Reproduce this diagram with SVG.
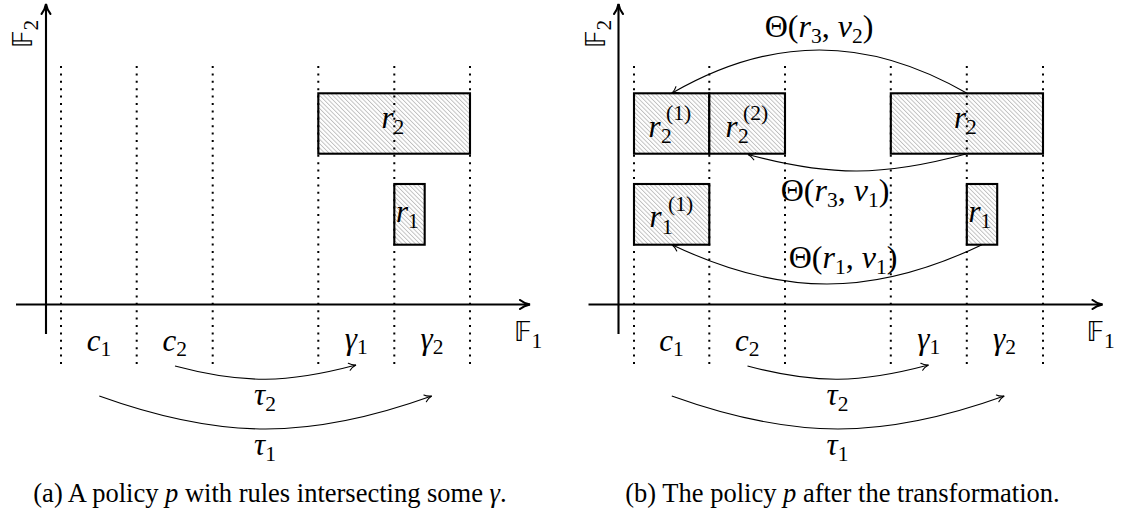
<svg xmlns="http://www.w3.org/2000/svg" width="1133" height="516" viewBox="0 0 1133 516">
<style>
  .bg { fill: #ffffff; }
  .axis { stroke: #000; stroke-width: 2.1; fill: none; }
  .dot { stroke: #000; stroke-width: 2; stroke-dasharray: 2 5.4; fill: none; }
  .rule { fill: url(#hatch); stroke: #000; stroke-width: 2.1; }
  .arc { stroke: #000; stroke-width: 1.1; fill: none; marker-end: url(#ah); }
  .m { font-family: "Liberation Serif", "DejaVu Serif", serif; font-size: 31px; fill: #000; }
  .t { font-size: 32px; }
  .i { font-style: italic; }
  .s { font-size: 21.5px; font-style: normal; }
  .bb { font-family: "DejaVu Sans", "Noto Sans", sans-serif; font-size: 26px; fill: #000; }
  .cap { font-family: "Liberation Serif", "Times New Roman", serif; font-size: 26.5px; fill: #000; }
</style>
<defs>
  <pattern id="hatch" patternUnits="userSpaceOnUse" width="3.1" height="3.1" patternTransform="rotate(-45)">
    <rect width="3.1" height="3.1" fill="#ffffff"/>
    <line x1="0.5" y1="0" x2="0.5" y2="3.1" stroke="#a8a8a8" stroke-width="0.7"/>
  </pattern>
  <marker id="ah" viewBox="-9 -5 11 10" refX="0" refY="0" markerWidth="11" markerHeight="10" orient="auto" markerUnits="userSpaceOnUse">
    <path d="M-7,-3.6 C-5,-1.6 -2.2,-0.5 0,0 C-2.2,0.5 -5,1.6 -7,3.6" fill="none" stroke="#000" stroke-width="1.1" stroke-linecap="round"/>
  </marker>
  <marker id="axh" viewBox="-12 -6 14 12" refX="0" refY="0" markerWidth="14" markerHeight="12" orient="auto" markerUnits="userSpaceOnUse">
    <path d="M-10,-4.5 C-7,-2 -3,-0.6 0,0 C-3,0.6 -7,2 -10,4.5" fill="none" stroke="#000" stroke-width="2" stroke-linecap="round"/>
  </marker>
</defs>
<rect class="bg" x="0" y="0" width="1133" height="516"/>

<!-- ============ Panel (a) ============ -->
<g id="panel-a">
  <g id="a-axes">
    <line class="axis" x1="46" y1="334" x2="46" y2="4" marker-end="url(#axh)"/>
    <line class="axis" x1="16" y1="304.5" x2="530" y2="304.5" marker-end="url(#axh)"/>
    <text class="bb" transform="translate(32,48) rotate(-90)">𝔽<tspan class="m s" dy="6">2</tspan></text>
    <text class="bb" x="514" y="341">𝔽<tspan class="m s" dy="7">1</tspan></text>
  </g>
  <g id="a-r2"><rect class="rule" x="318.3" y="93.3" width="151.7" height="60.4"/>
    <text class="m" x="381.5" y="127.5"><tspan class="i">r</tspan><tspan class="s" dy="6">2</tspan></text></g>
  <g id="a-r1"><rect class="rule" x="394.3" y="184" width="30.4" height="60.7"/>
    <text class="m" x="396" y="221.5"><tspan class="i">r</tspan><tspan class="s" dy="6">1</tspan></text></g>
  <g id="a-grid">
    <line class="dot" x1="61" y1="66" x2="61" y2="366"/>
    <line class="dot" x1="136.7" y1="66" x2="136.7" y2="366"/>
    <line class="dot" x1="212.7" y1="66" x2="212.7" y2="366"/>
    <line class="dot" x1="318.3" y1="66" x2="318.3" y2="366"/>
    <line class="dot" x1="394.3" y1="66" x2="394.3" y2="366"/>
    <line class="dot" x1="470" y1="66" x2="470" y2="366"/>
  </g>
  <g id="a-c1"><text class="m" x="98.9" y="350.5" text-anchor="middle"><tspan class="i">c</tspan><tspan class="s" dy="5">1</tspan></text></g>
  <g id="a-c2"><text class="m" x="174.7" y="350.5" text-anchor="middle"><tspan class="i">c</tspan><tspan class="s" dy="5">2</tspan></text></g>
  <g id="a-g1"><text class="m" x="356.3" y="349" text-anchor="middle"><tspan class="i">γ</tspan><tspan class="s" dy="5">1</tspan></text></g>
  <g id="a-g2"><text class="m" x="432" y="349" text-anchor="middle"><tspan class="i">γ</tspan><tspan class="s" dy="5">2</tspan></text></g>
  <g id="a-connectors">
    <path class="arc" d="M175,366 C243.5,384.3 287.5,383.3 356,365"/>
    <path class="arc" d="M99.3,396 C221.6,440 309.4,440 431.7,396"/>
    <text class="m" x="265" y="405" text-anchor="middle"><tspan class="i">τ</tspan><tspan class="s" dy="6">2</tspan></text>
    <text class="m" x="265" y="455" text-anchor="middle"><tspan class="i">τ</tspan><tspan class="s" dy="6">1</tspan></text>
  </g>
  <text class="cap" x="270" y="501.5" text-anchor="middle">(a) A policy <tspan class="i">p</tspan> with rules intersecting some <tspan class="i">γ</tspan>.</text>
</g>

<!-- ============ Panel (b) ============ -->
<g id="panel-b">
  <g id="b-axes">
    <line class="axis" x1="618.5" y1="334" x2="618.5" y2="4" marker-end="url(#axh)"/>
    <line class="axis" x1="588.5" y1="304.5" x2="1102.5" y2="304.5" marker-end="url(#axh)"/>
    <text class="bb" transform="translate(604.5,48) rotate(-90)">𝔽<tspan class="m s" dy="6">2</tspan></text>
    <text class="bb" x="1086.5" y="341">𝔽<tspan class="m s" dy="7">1</tspan></text>
  </g>
  <g id="b-r2-1"><rect class="rule" x="634" y="93.3" width="75.3" height="60.4"/>
    <text class="m"><tspan class="i" x="648.5" y="136.5">r</tspan><tspan class="s" x="661" y="143">2</tspan><tspan class="s" x="666" y="120">(1)</tspan></text></g>
  <g id="b-r2-2"><rect class="rule" x="709.3" y="93.3" width="75.7" height="60.4"/>
    <text class="m"><tspan class="i" x="725.5" y="136.5">r</tspan><tspan class="s" x="738" y="143">2</tspan><tspan class="s" x="743" y="120">(2)</tspan></text></g>
  <g id="b-r2"><rect class="rule" x="890.8" y="93.3" width="152.2" height="60.4"/>
    <text class="m" x="954" y="127.5"><tspan class="i">r</tspan><tspan class="s" dy="6">2</tspan></text></g>
  <g id="b-r1-1"><rect class="rule" x="634" y="184" width="75.3" height="60.7"/>
    <text class="m"><tspan class="i" x="649.5" y="227.3">r</tspan><tspan class="s" x="662" y="234">1</tspan><tspan class="s" x="668" y="211">(1)</tspan></text></g>
  <g id="b-r1"><rect class="rule" x="966.8" y="184" width="30.4" height="60.7"/>
    <text class="m" x="968.5" y="221.5"><tspan class="i">r</tspan><tspan class="s" dy="6">1</tspan></text></g>
  <g id="b-grid">
    <line class="dot" x1="634" y1="66" x2="634" y2="366"/>
    <line class="dot" x1="709.3" y1="66" x2="709.3" y2="366"/>
    <line class="dot" x1="785" y1="66" x2="785" y2="366"/>
    <line class="dot" x1="890.8" y1="66" x2="890.8" y2="366"/>
    <line class="dot" x1="966.8" y1="66" x2="966.8" y2="366"/>
    <line class="dot" x1="1043" y1="66" x2="1043" y2="366"/>
  </g>
  <g id="b-c1"><text class="m" x="671.4" y="350.5" text-anchor="middle"><tspan class="i">c</tspan><tspan class="s" dy="5">1</tspan></text></g>
  <g id="b-c2"><text class="m" x="747.2" y="350.5" text-anchor="middle"><tspan class="i">c</tspan><tspan class="s" dy="5">2</tspan></text></g>
  <g id="b-g1"><text class="m" x="928.8" y="349" text-anchor="middle"><tspan class="i">γ</tspan><tspan class="s" dy="5">1</tspan></text></g>
  <g id="b-g2"><text class="m" x="1004.5" y="349" text-anchor="middle"><tspan class="i">γ</tspan><tspan class="s" dy="5">2</tspan></text></g>
  <g id="b-connectors">
    <path class="arc" d="M967,93.3 C866.9,35.5 771.8,35.5 671.7,93.3"/>
    <path class="arc" d="M966,154 C883.7,176.3 830.3,176.8 748,154.5"/>
    <path class="arc" d="M982,244.7 C872.5,297.1 781.5,297.1 672,244.7"/>
    <path class="arc" d="M747.5,366 C816,384.3 860,383.3 928.5,365"/>
    <path class="arc" d="M671.8,396 C794.1,440 881.9,440 1004.2,396"/>
    <text class="m t" x="819" y="37" text-anchor="middle">Θ(<tspan class="i">r</tspan><tspan class="s" dy="6">3</tspan><tspan dy="-6">, </tspan><tspan class="i">ν</tspan><tspan class="s" dy="6">2</tspan><tspan dy="-6">)</tspan></text>
    <text class="m t" x="835" y="200.5" text-anchor="middle">Θ(<tspan class="i">r</tspan><tspan class="s" dy="6">3</tspan><tspan dy="-6">, </tspan><tspan class="i">ν</tspan><tspan class="s" dy="6">1</tspan><tspan dy="-6">)</tspan></text>
    <text class="m t" x="843" y="268.3" text-anchor="middle">Θ(<tspan class="i">r</tspan><tspan class="s" dy="6">1</tspan><tspan dy="-6">, </tspan><tspan class="i">ν</tspan><tspan class="s" dy="6">1</tspan><tspan dy="-6">)</tspan></text>
    <text class="m" x="837.5" y="405" text-anchor="middle"><tspan class="i">τ</tspan><tspan class="s" dy="6">2</tspan></text>
    <text class="m" x="837.5" y="455" text-anchor="middle"><tspan class="i">τ</tspan><tspan class="s" dy="6">1</tspan></text>
  </g>
  <text class="cap" x="842.5" y="501.5" text-anchor="middle">(b) The policy <tspan class="i">p</tspan> after the transformation.</text>
</g>
</svg>
